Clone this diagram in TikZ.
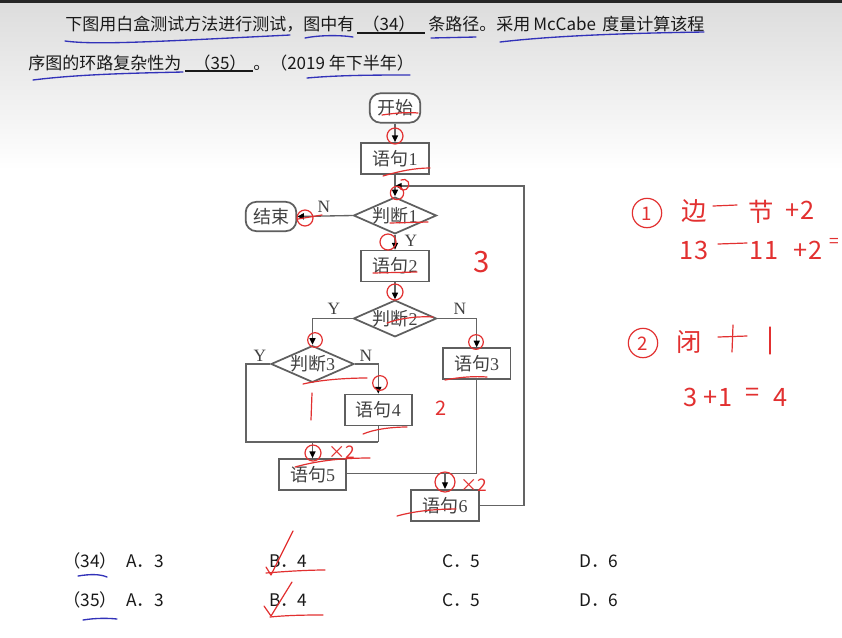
\documentclass[tikz,border=0pt]{standalone}
\usepackage{fontspec}
\setmainfont{Liberation Serif}
\newfontfamily\cjk{Noto Sans CJK SC}
\usetikzlibrary{shapes.geometric,arrows.meta,calc}
\definecolor{bordc}{RGB}{95,95,95}
\definecolor{linec}{RGB}{100,100,100}
\definecolor{txtc}{RGB}{65,65,65}
\definecolor{inkc}{RGB}{25,25,25}
\definecolor{penred}{RGB}{226,48,48}
\definecolor{penblue}{RGB}{50,50,185}
\definecolor{bgtop}{RGB}{220,220,220}
\begin{document}
\begin{tikzpicture}[x=0.75pt,y=-0.75pt,
  box/.style={draw=bordc, line width=1.3pt, fill=white, minimum width=50.5pt, minimum height=23.25pt, inner sep=0pt, text=txtc, font=\fontsize{13.5pt}{15pt}\selectfont},
  term/.style={box, rounded corners=8pt, minimum width=38pt, minimum height=22pt},
  dec/.style={box, diamond, aspect=2.25, minimum width=62.25pt, minimum height=27.5pt},
  arr/.style={draw=linec, line width=1pt, -{Triangle[length=5pt,width=4.5pt,color=black]}},
  ln/.style={draw=linec, line width=1pt},
  lab/.style={font=\fontsize{13pt}{14pt}\selectfont, text=txtc, inner sep=0pt},
  toptxt/.style={font=\cjk\fontsize{12.75pt}{15pt}\selectfont, text=inkc, inner sep=0pt},
  anstxt/.style={font=\cjk\fontsize{13pt}{15pt}\selectfont, text=inkc, inner sep=0pt},
  pen/.style={draw=penred, line width=0.9pt, line cap=round, line join=round},
  bpen/.style={draw=penblue, line width=1pt, line cap=round},
  hand/.style={text=penred, inner sep=0pt, font=\cjk\fontsize{19pt}{21pt}\selectfont},
  handsm/.style={text=penred, inner sep=0pt, font=\cjk\fontsize{13pt}{15pt}\selectfont}]
\useasboundingbox (0,0) rectangle (842,637);
\fill[white] (0,0) rectangle (842,637);
\shade[top color=bgtop, bottom color=white] (0,0) rectangle (842,170);
\fill[black!85] (0,0) rectangle (842,3);

% ---- question text ----
\node[toptxt, anchor=west] (q1a) at (65,24) {下图用白盒测试方法进行测试，图中有};
\node[toptxt] (q1b) at (389,24) {（34）};
\node[toptxt, anchor=west] (q1c) at (428,24) {条路径。采用};
\node[toptxt, anchor=west] (q1d) at (533,24) {McCabe};
\node[toptxt, anchor=west] (q1e) at (602,24) {度量计算该程};
\draw[inkc, line width=0.9pt] (357,33) -- (425,33);
\node[toptxt, anchor=west] (q2a) at (28,63) {序图的环路复杂性为};
\node[toptxt] (q2b) at (220,63) {（35）};
\draw[inkc, line width=0.9pt] (185,71) -- (253,71);
\node[toptxt, anchor=west] (q2c) at (253,63) {。（2019 年下半年）};

% blue underlines
\draw[bpen] (65,41) .. controls (95,45) and (150,42) .. (290,35);
\draw[bpen] (305,38) .. controls (320,35) and (340,35) .. (353,37);
\draw[bpen] (431,38) -- (476,37);
\draw[bpen] (500,42) .. controls (560,35) and (640,33) .. (704,32);
\draw[bpen] (33,80) .. controls (80,74) and (140,73) .. (183,72);
\draw[bpen] (307,78) .. controls (340,75) and (380,75) .. (410,75);

% ---- flowchart ----
\node[term] (start) at (395,108) {\cjk 开始};
\node[box] (s1) at (395,158.5) {{\cjk 语句}1};
\node[dec] (d1) at (395,215.5) {{\cjk 判断}1};
\node[term] (stop) at (271,216.5) {\cjk 结束};
\node[box] (s2) at (395,266) {{\cjk 语句}2};
\node[dec] (d2) at (395,318.5) {{\cjk 判断}2};
\node[dec] (d3) at (312.5,364) {{\cjk 判断}3};
\node[box] (s3) at (476.7,363.7) {{\cjk 语句}3};
\node[box] (s4) at (378.3,410) {{\cjk 语句}4};
\node[box] (s5) at (312.5,474.5) {{\cjk 语句}5};
\node[box] (s6) at (445,505.3) {{\cjk 语句}6};

\coordinate (lp) at (395,186);
\coordinate (rc) at (524,186);
\coordinate (jl) at (246,442);
\coordinate (jr) at (378.3,442);
\coordinate (j1) at (312.5,442);
\coordinate (jm) at (476.7,473.3);
\coordinate (j2) at (445,473.3);
\coordinate (s5r) at (s5.east |- jm);

\draw[arr] (start) -- (s1);
\draw[arr] (s1) -- (d1);
\draw[arr] (d1.west) -- (stop.east);
\draw[arr] (d1) -- (s2);
\draw[arr] (s2) -- (d2);
\draw[arr] (d2.west) -| (d3.north);
\draw[arr] (d2.east) -| (s3.north);
\draw[arr] (d3.east) -| (s4.north);
\draw[ln] (d3.west) -| (jl) -- (jr);
\draw[ln] (s4.south) -- (jr);
\draw[arr] (j1) -- (s5.north);
\draw[ln] (s3.south) -- (jm);
\draw[ln] (s5r) -- (jm);
\draw[arr] (j2) -- (s6.north);
\draw[arr] (s6.east) -| (rc) -- (lp);

\node[lab] (ln1) at (324,207) {N};
\node[lab] (ly1) at (411,241) {Y};
\node[lab] (ly2) at (334,309) {Y};
\node[lab] (ln2) at (460,309) {N};
\node[lab] (ly3) at (260,356) {Y};
\node[lab] (ln3) at (366,356) {N};

% ---- answers ----
\node[anstxt] (a34) at (90,561) {（34）};
\node[anstxt, anchor=west] (a34a) at (126,561) {A．3};
\node[anstxt, anchor=west] (a34b) at (269,561) {B．4};
\node[anstxt, anchor=west] (a34c) at (442,561) {C．5};
\node[anstxt, anchor=west] (a34d) at (579,561) {D．6};
\node[anstxt] (a35) at (90,600) {（35）};
\node[anstxt, anchor=west] (a35a) at (126,600) {A．3};
\node[anstxt, anchor=west] (a35b) at (269,600) {B．4};
\node[anstxt, anchor=west] (a35c) at (442,600) {C．5};
\node[anstxt, anchor=west] (a35d) at (579,600) {D．6};
\draw[bpen] (78,576) .. controls (90,574) and (100,574) .. (107,577);
\draw[bpen] (83,620) .. controls (95,618) and (108,618) .. (117,619);

% ---- red pen marks ----
\draw[pen] (266,567) -- (271,575) -- (293,531);
\draw[pen] (266,573) .. controls (290,571) and (310,570) .. (325,570);
\draw[pen] (264,606) -- (271,616) -- (292,582);
\draw[pen] (270,617) .. controls (290,615) and (310,615) .. (323,615);

% circles at arrow heads
\draw[pen] (395,136) circle[radius=6pt];
\draw[pen] (401,180) arc[start angle=120, end angle=-160, radius=4pt];
\draw[pen] (397,193) circle[radius=5pt];
\draw[pen] (305,218) circle[radius=6pt];
\draw[pen] (322,215) -- (298,219);
\draw[pen] (388,242) circle[radius=6pt];
\draw[pen] (395,292) circle[radius=6pt];
\draw[pen] (315,340) circle[radius=5.5pt];
\draw[pen] (476,342) circle[radius=5.5pt];
\draw[pen] (380,383) circle[radius=5.5pt];
\draw[pen] (313,453) circle[radius=6pt];
\draw[pen] (445,482) circle[radius=7.5pt];

% underlines of node texts
\draw[pen] (382,115) .. controls (395,113) and (408,112) .. (418,113);
\draw[pen] (383,176) .. controls (400,171) and (415,168) .. (430,168);
\draw[pen] (390,223) -- (428,222);
\draw[pen] (373,273) -- (417,272);
\draw[pen] (387,323) .. controls (400,318) and (420,316) .. (433,317);
\draw[pen] (303,384) .. controls (320,380) and (345,378) .. (367,378);
\draw[pen] (445,380) .. controls (460,377) and (475,376) .. (487,377);
\draw[pen] (363,434) .. controls (375,429) and (392,427) .. (407,427);
\draw[pen] (295,467) .. controls (320,460) and (345,458) .. (370,458);
\draw[pen] (397,516) .. controls (415,511) and (435,509) .. (456,509);

% numbers near the graph
\node[hand, font=\cjk\fontsize{22pt}{24pt}\selectfont] (n3) at (482,262) {3};
\draw[pen] (312,393) -- (311,420);
\node[hand, font=\cjk\fontsize{15pt}{17pt}\selectfont] (n2) at (441,408) {2};
\node[handsm] (x2a) at (342,452) {×2};
\node[handsm] (x2b) at (474,485) {×2};

% formulas on the right
\draw[pen] (647,213) circle[radius=11pt];
\node[hand, font=\cjk\fontsize{14pt}{16pt}\selectfont] (c1) at (647,214) {1};
\node[hand] (f1) at (694,211) {边};
\draw[pen] (713,206) -- (737,205);
\node[hand] (f2) at (761,212) {节};
\node[hand] (f3) at (800,210) {+2};
\node[hand] (f4) at (694,250) {13};
\draw[pen] (718,244) -- (747,243);
\node[hand] (f5) at (764,250) {11};
\node[hand] (f6) at (808,250) {+2};
\node[handsm] (f7) at (834,243) {=};
\draw[pen] (643,343) circle[radius=11pt];
\node[hand, font=\cjk\fontsize{14pt}{16pt}\selectfont] (c2) at (643,344) {2};
\node[hand] (f8) at (689,342) {闭};
\draw[pen] (718,337) -- (747,336);
\draw[pen] (733,325) -- (732,352);
\draw[pen] (770,327) -- (770,354);
\node[hand] (f10) at (691,397) {3};
\node[hand] (f11) at (718,397) {+1};
\node[hand] (f12) at (753,395) {=};
\node[hand] (f13) at (781,397) {4};
\end{tikzpicture}
\end{document}
